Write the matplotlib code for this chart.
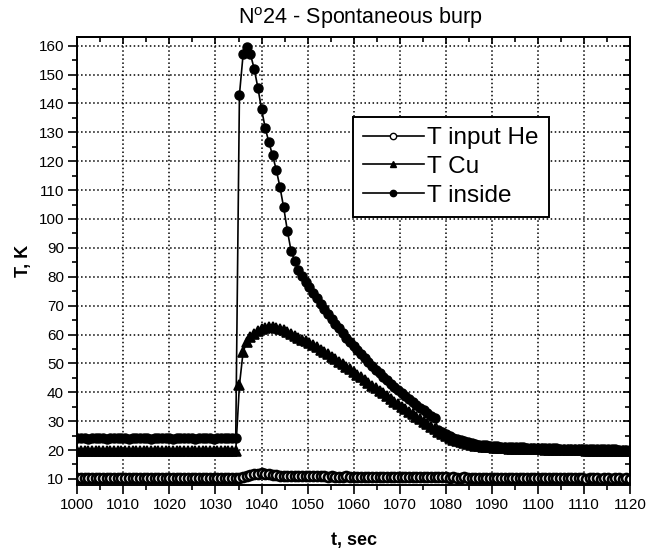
import numpy as np
import matplotlib
matplotlib.use('Agg')
import matplotlib.pyplot as plt
from matplotlib.ticker import MultipleLocator

plt.rcParams['font.family'] = ['Liberation Sans', 'DejaVu Sans']
plt.rcParams['mathtext.default'] = 'regular'

# sampling grid of the logger (about 0.8 s per point)
t = 1000 + 0.8 * np.arange(151)

# T input He (open circles)
t_input_he = [
    10.3, 10.2, 10.3, 10.3, 10.2, 10.4, 10.3, 10.2, 10.3, 10.3,
    10.2, 10.3, 10.4, 10.3, 10.2, 10.3, 10.3, 10.2, 10.3, 10.4,
    10.3, 10.3, 10.2, 10.3, 10.3, 10.4, 10.3, 10.2, 10.3, 10.3,
    10.2, 10.3, 10.4, 10.3, 10.3, 10.2, 10.3, 10.3, 10.2, 10.3,
    10.4, 10.3, 10.3, 10.2,
    10.4, 10.8, 11.1, 11.4, 11.6, 11.8, 11.9, 11.8, 11.6, 11.4, 11.2,
    11.1, 11.1, 11.0, 11.0, 11.0, 11.0, 10.9, 10.9, 10.9, 11.0,
    10.9, 10.9, 10.9, 10.8, 10.9, 10.8, 10.8, 10.8, 10.9, 10.8,
    10.8, 10.8, 10.7, 10.8, 10.7, 10.7, 10.8, 10.7, 10.7, 10.7,
    10.6, 10.7, 10.6, 10.6, 10.7, 10.6, 10.6, 10.6, 10.5, 10.6,
    10.5, 10.5, 10.6, 10.5, 10.5, 10.5, 10.4, 10.5, 10.4, 10.4,
    10.5, 10.4, 10.4, 10.4, 10.3, 10.4, 10.4, 10.3, 10.4, 10.3,
    10.3, 10.3, 10.4, 10.3, 10.3, 10.3, 10.2, 10.3, 10.3, 10.2,
    10.3, 10.3, 10.2, 10.3, 10.2, 10.2, 10.3, 10.2, 10.2, 10.2,
    10.3, 10.2, 10.2, 10.1, 10.2, 10.2, 10.2, 10.1, 10.2, 10.2,
    10.1, 10.2, 10.2, 10.1, 10.2, 10.1,
]

# T Cu (triangles)
t_cu = [
    19.7, 19.8, 19.7, 19.6, 19.7, 19.7, 19.8, 19.7, 19.6, 19.7,
    19.7, 19.7, 19.8, 19.7, 19.7, 19.6, 19.7, 19.7, 19.8, 19.7,
    19.7, 19.6, 19.7, 19.7, 19.7, 19.8, 19.7, 19.7, 19.6, 19.7,
    19.7, 19.8, 19.7, 19.7, 19.7, 19.6, 19.7, 19.7, 19.8, 19.7,
    19.7, 19.7, 19.6, 19.7,
    42.5, 54.0, 57.5, 59.0, 60.3, 61.2, 61.8, 62.3, 62.5, 62.6,
    62.4, 62.0, 61.4, 60.8, 60.1, 59.5, 58.9, 58.2, 57.6, 56.9,
    56.3, 55.6, 54.8, 54.0, 53.2, 52.3, 51.5, 50.6, 49.7, 48.8,
    47.9, 47.0, 46.1, 45.2, 44.2, 43.3, 42.3, 41.4, 40.5, 39.6,
    38.6, 37.7, 36.8, 35.9, 35.0, 34.1, 33.3, 32.4, 31.5, 30.7,
    29.8, 29.0, 28.1, 27.3,
    26.4, 25.6, 24.9, 24.2, 23.6, 23.1, 22.7, 22.3, 22.0, 21.7,
    21.5, 21.3, 21.1, 21.0, 20.9, 20.8, 20.7, 20.6, 20.6, 20.5,
    20.5, 20.4, 20.4, 20.3, 20.3, 20.3, 20.2, 20.2, 20.2, 20.1,
    20.1, 20.1, 20.0, 20.0, 20.0, 20.0, 19.9, 19.9, 19.9, 19.9,
    19.8, 19.8, 19.8, 19.8, 19.7, 19.7, 19.7, 19.7, 19.6, 19.6,
    19.6, 19.6, 19.5,
]

# T inside (filled circles)
t_inside = [
    24.0, 24.1, 24.0, 23.9, 24.0, 24.0, 24.1, 24.0, 23.9, 24.0,
    24.0, 24.1, 24.0, 24.0, 23.9, 24.0, 24.0, 24.1, 24.0, 24.0,
    23.9, 24.0, 24.0, 24.1, 24.0, 24.0, 23.9, 24.0, 24.1, 24.0,
    24.0, 24.0, 23.9, 24.0, 24.1, 24.0, 24.0, 23.9, 24.0, 24.0,
    24.1, 24.0, 24.0, 24.0,
    143.0, 157.0, 159.5, 157.0, 152.0, 145.5, 138.0, 131.5, 126.5,
    122.0, 117.0, 111.0, 104.0, 96.0, 89.0, 85.5, 82.5, 80.2, 78.2,
    76.3, 74.4, 72.5, 70.6, 68.8, 67.1, 65.4, 63.7, 62.1, 60.5,
    58.9, 57.4, 55.9, 54.5, 53.1, 51.7, 50.4, 49.1, 47.8, 46.6,
    45.4, 44.2, 43.0, 41.9, 40.8, 39.7, 38.6, 37.6, 36.6, 35.6,
    34.6, 33.7, 32.8, 31.9, 31.0,
    27.0, 26.2, 25.5, 24.9, 24.3, 23.8, 23.4, 23.0, 22.7, 22.4,
    22.1, 21.9, 21.7, 21.6, 21.5, 21.4, 21.3, 21.2, 21.1, 21.1,
    21.0, 21.0, 20.9, 20.9, 20.8, 20.8, 20.8, 20.7, 20.7, 20.7,
    20.6, 20.6, 20.6, 20.5, 20.5, 20.5, 20.5, 20.4, 20.4, 20.4,
    20.4, 20.3, 20.3, 20.3, 20.3, 20.2, 20.2, 20.2, 20.2, 20.1,
    20.1, 20.1, 20.1,
]

labels = ['T input He', 'T Cu', 'T inside']


def main():
    fig = plt.figure(figsize=(6.49, 5.52), dpi=100)
    ax = fig.add_axes([0.119, 0.1214, 0.852, 0.812])

    ax.plot(t, t_input_he, color='black', lw=1.2, marker='o', ms=6.5,
            mfc='white', mec='black', mew=1.9, label=labels[0])
    ax.plot(t, t_cu, color='black', lw=1.2, marker='^', ms=7,
            mfc='black', mec='black', mew=1.2, label=labels[1])
    ax.plot(t, t_inside, color='black', lw=1.2, marker='o', ms=6.5,
            mfc='black', mec='black', mew=1.0, label=labels[2])

    ax.set_xlim(1000, 1120)
    ax.set_ylim(7.9, 163.1)
    ax.xaxis.set_major_locator(MultipleLocator(10))
    ax.xaxis.set_minor_locator(MultipleLocator(5))
    ax.yaxis.set_major_locator(MultipleLocator(10))
    ax.yaxis.set_minor_locator(MultipleLocator(5))

    ax.tick_params(which='major', direction='out', length=6.5, width=1.2,
                   labelsize=11, pad=3)
    ax.tick_params(which='minor', direction='out', length=3.6, width=1.2)

    # Origin style: inner ticks on top and right
    top = ax.secondary_xaxis('top')
    right = ax.secondary_yaxis('right')
    for sec, axis in ((top, top.xaxis), (right, right.yaxis)):
        axis.set_major_locator(MultipleLocator(10))
        axis.set_minor_locator(MultipleLocator(5))
        sec.tick_params(which='major', direction='in', length=5, width=1.2)
        sec.tick_params(which='minor', direction='in', length=3.6, width=1.2)
        sec.tick_params(which='both', labeltop=False, labelright=False)
        for sp in sec.spines.values():
            sp.set_linewidth(1.4)

    for sp in ax.spines.values():
        sp.set_linewidth(1.4)

    ax.grid(True, which='major', linestyle=':', color='black', lw=1.1)

    ax.set_xlabel('t, sec', fontsize=13, fontweight='bold', labelpad=14)
    ax.set_ylabel('T, K', fontsize=13, fontweight='bold', labelpad=5)

    fig.text(0.555, 1 - 24 / 552, r'N$^{o}$24 - Spontaneous burp',
             ha='center', va='baseline', fontsize=15.5)

    leg = ax.legend(loc='upper left', bbox_to_anchor=(0.499, 0.82),
                    borderaxespad=0, fontsize=17.5, handlelength=2.5,
                    handletextpad=0.15, labelspacing=0.28, borderpad=0.4,
                    markerscale=0.7, fancybox=False, framealpha=1)
    leg.get_frame().set_edgecolor('black')
    leg.get_frame().set_linewidth(1.4)
    for h in leg.legend_handles:
        h.set_markeredgewidth(1.0)

    fig.savefig('out.png', dpi=100)
    plt.close(fig)


if __name__ == '__main__':
    main()
